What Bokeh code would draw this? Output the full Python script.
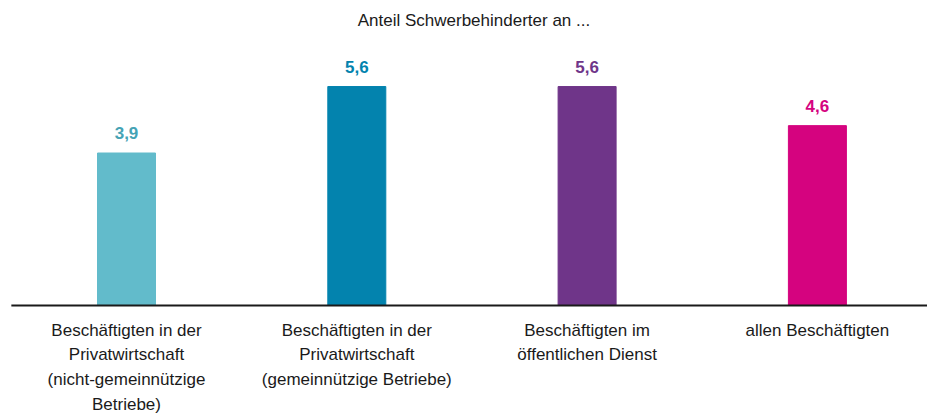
from bokeh.plotting import figure
from bokeh.models import ColumnDataSource, Range1d
from bokeh.core.properties import value
from bokeh.embed import file_html
from bokeh.resources import INLINE

# Data
categories = [
    "Beschäftigten in der\nPrivatwirtschaft\n(nicht-gemeinnützige\nBetriebe)",
    "Beschäftigten in der\nPrivatwirtschaft\n(gemeinnützige Betriebe)",
    "Beschäftigten im\nöffentlichen Dienst",
    "allen Beschäftigten",
]
shares = [3.9, 5.6, 5.6, 4.6]
value_labels = ["3,9", "5,6", "5,6", "4,6"]
colors = ["#62BBCB", "#0383AE", "#6F3589", "#D5037F"]
label_colors = ["#45A3B5", "#0383AE", "#6F3589", "#D5037F"]
title_text = "Anteil Schwerbehinderter an ..."

FONT = "Liberation Sans"

xs = list(range(len(categories)))
src = ColumnDataSource(dict(x=xs, top=shares, lab=value_labels, col=colors,
                            lcol=label_colors, cat=categories, zero=[0] * len(xs)))

W, H = 927, 416
px_per_cat = 230.3
px_per_unit = 39.1
x0_px = 126
y0_px = 305

p = figure(width=W, height=H, output_backend="svg", toolbar_location=None,
           min_border=0, min_border_left=0, min_border_right=0,
           min_border_top=0, min_border_bottom=0,
           x_range=Range1d(-x0_px / px_per_cat, (W - x0_px) / px_per_cat),
           y_range=Range1d(-(H - y0_px) / px_per_unit, y0_px / px_per_unit))
p.axis.visible = False
p.grid.visible = False
p.outline_line_color = None

p.vbar(x="x", top="top", bottom=0, width=58 / px_per_cat, color="col", source=src)

# baseline spanning the category band
p.segment(x0=[-0.5], y0=[0], x1=[len(xs) - 0.5], y1=[0],
          line_color="#1a1a1a", line_width=2)

p.text(x="x", y="top", text="lab", text_color="lcol", source=src,
       text_font=value(FONT), text_font_size="17px", text_font_style="bold",
       text_align="center", text_baseline="middle", y_offset=-20)

p.text(x="x", y="zero", text="cat", source=src, text_color="#1a1a1a",
       text_font=value(FONT), text_font_size="17px",
       text_align="center", text_baseline="top", y_offset=15,
       text_line_height=1.3)

p.text(x=[(len(xs) - 1) / 2], y=[shares[1]], text=[title_text], text_color="#1a1a1a",
       text_font=value(FONT), text_font_size="17px",
       text_align="center", text_baseline="middle", y_offset=-(86 - 20), x_offset=2)

open("out.html", "w").write(file_html(p, INLINE))
